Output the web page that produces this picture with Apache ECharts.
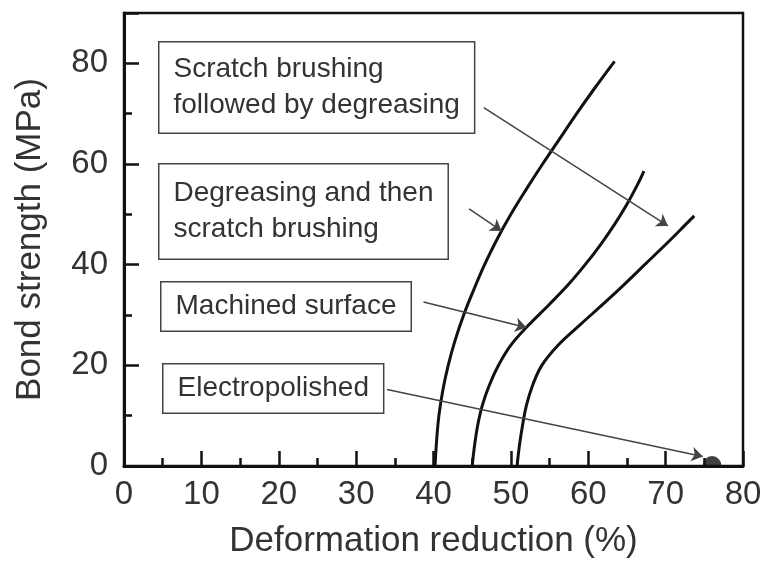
<!DOCTYPE html>
<html>
<head>
<meta charset="utf-8">
<script src="https://cdn.jsdelivr.net/npm/echarts@6/dist/echarts.min.js"></script>
<style>
  html, body { margin: 0; padding: 0; background: #fff; }
  #main { width: 766px; height: 570px; }
</style>
</head>
<body>
<div id="main"></div>
<script>
// curves: [deformation reduction %, bond strength MPa]
var degreaseThenBrush = [[40.2,0],[40.4,5],[40.7,10],[41.2,15],[41.9,20],[42.8,25],[43.9,30],[45.2,35],[46.6,40],[48.2,45],[50.0,50],[52.0,55],[54.1,60],[56.3,65],[58.5,70],[60.8,75],[63.4,80.4]]
var machined = [[45.0,0],[45.3,4],[45.7,8],[46.3,12],[47.2,16],[48.4,20],[50.0,24],[52.3,28],[54.9,32],[57.4,36],[59.6,40],[61.6,44],[63.4,48],[65.0,52],[66.4,56],[67.2,58.6]]
var brushThenDegrease = [[50.8,0],[51.1,4],[51.5,8],[52.0,12],[52.8,16],[54.0,20],[56.1,24],[58.9,28],[61.8,32],[64.6,36],[67.3,40],[70.0,44],[72.6,48],[73.7,49.7]]
var electropolished = [[76,0]]

// leader arrows, from label to curve (data units)
var arrowLines = [
  [[46.5,71.2],[70.3,47.7]],
  [[44.6,51.1],[48.8,46.7]],
  [[38.7,32.6],[52.0,27.5]],
  [[34.0,15.2],[74.8,1.9]]
]

var xTicks = [0, 10, 20, 30, 40, 50, 60, 70, 80]
var yTicks = [0, 20, 40, 60, 80]

var font = "'Liberation Sans', Arial, sans-serif"
var ink = '#111'
var textInk = '#333'

function curve(data) {
  return {
    type: 'line',
    data: data,
    smooth: 0.4,
    symbol: 'none',
    lineStyle: { color: ink, width: 3 },
    z: 3
  }
}

function box(text, left, top, pad) {
  return {
    type: 'text',
    left: left,
    top: top,
    z: 10,
    style: {
      text: text,
      font: '28px ' + font,
      fill: textInk,
      lineHeight: 36,
      backgroundColor: '#fff',
      borderColor: '#444',
      borderWidth: 1.5,
      padding: pad
    }
  }
}

var myChart = echarts.init(document.getElementById('main'))
var option = {
  animation: false,
  backgroundColor: '#fff',
  grid: { left: 124, right: 23, top: 13, bottom: 104, show: true, borderColor: ink, borderWidth: 2.5 },
  xAxis: {
    type: 'value', min: xTicks[0], max: xTicks[xTicks.length - 1], interval: 10,
    name: 'Deformation reduction (%)', nameLocation: 'middle', nameGap: 58,
    nameTextStyle: { fontSize: 35, color: textInk, fontFamily: font },
    axisLine: { lineStyle: { color: ink, width: 3 } },
    axisTick: { inside: true, length: 15, lineStyle: { color: ink, width: 2.5 } },
    minorTick: { show: true, splitNumber: 2, length: 8, lineStyle: { color: ink, width: 2.5 } },
    splitLine: { show: false },
    axisLabel: { fontSize: 33, color: textInk, fontFamily: font, margin: 12 }
  },
  yAxis: [{
    type: 'value', min: 0, max: 90, interval: 10, position: 'left',
    name: 'Bond strength (MPa)', nameLocation: 'middle', nameGap: 76,
    nameTextStyle: { fontSize: 35, color: textInk, fontFamily: font },
    axisLine: { lineStyle: { color: ink, width: 3 } },
    axisTick: { inside: true, length: 8, lineStyle: { color: ink, width: 2.5 } },
    splitLine: { show: false },
    axisLabel: {
      fontSize: 33, color: textInk, fontFamily: font, margin: 16,
      formatter: function (v) { return yTicks.indexOf(v) >= 0 ? String(v) : '' }
    }
  }, {
    type: 'value', min: 0, max: 90, interval: 20, position: 'left', offset: 0,
    axisLine: { show: false },
    axisTick: { show: true, inside: true, length: 15, lineStyle: { color: ink, width: 2.5 } },
    axisLabel: { show: false },
    splitLine: { show: false }
  }],
  graphic: [
    box('Scratch brushing\nfollowed by degreasing', 158, 41, [9, 14]),
    box('Degreasing and then\nscratch brushing', 158, 163, [11, 14]),
    box('Machined surface', 160, 281, [6, 14]),
    box('Electropolished', 162, 363, [6, 14])
  ],
  series: [
    curve(degreaseThenBrush),
    curve(machined),
    curve(brushThenDegrease),
    {
      // half dot sitting on the axis
      type: 'scatter', data: electropolished,
      symbol: 'path://M0,10 A10,10 0 0 1 20,10 Z',
      symbolSize: [19, 10], symbolOffset: [0, -5],
      itemStyle: { color: ink }, z: 4
    },
    {
      type: 'lines', coordinateSystem: 'cartesian2d', z: 5,
      symbol: ['none', 'arrow'], symbolSize: [7, 11],
      lineStyle: { color: '#444', width: 1.5, opacity: 1 },
      data: arrowLines.map(function (c) { return { coords: c } })
    }
  ]
}
myChart.setOption(option)
</script>
</body>
</html>
